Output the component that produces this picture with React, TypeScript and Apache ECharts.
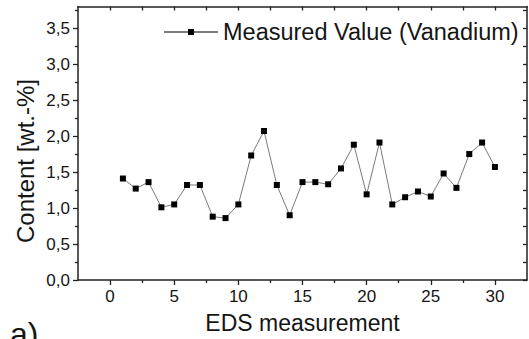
import React, { useEffect, useRef } from 'react';
import * as echarts from 'echarts';

const measurementNo = [1, 2, 3, 4, 5, 6, 7, 8, 9, 10, 11, 12, 13, 14, 15, 16, 17, 18, 19, 20, 21, 22, 23, 24, 25, 26, 27, 28, 29, 30];
const vanadiumContent = [1.41, 1.27, 1.36, 1.01, 1.05, 1.32, 1.32, 0.88, 0.86, 1.05, 1.73, 2.07, 1.32, 0.90, 1.36, 1.36, 1.33, 1.55, 1.88, 1.19, 1.91, 1.05, 1.15, 1.23, 1.16, 1.48, 1.28, 1.75, 1.91, 1.57];
const xMajorTicks = [0, 5, 10, 15, 20, 25, 30];
const xMinorTicks = [2.5, 7.5, 12.5, 17.5, 22.5, 27.5];
const yMajorTicks = [0, 0.5, 1, 1.5, 2, 2.5, 3, 3.5];
const yMinorTicks = [0.25, 0.75, 1.25, 1.75, 2.25, 2.75, 3.25, 3.75];

const seriesName = 'Measured Value (Vanadium)';
const xTitle = 'EDS measurement';
const yTitle = 'Content [wt.-%]';
const panelLabel = 'a)';

const FONT = '"Liberation Sans", Arial, Helvetica, sans-serif';
const AXIS = '#222';
const TXT = '#151515';

export default function App() {
  const ref = useRef<HTMLDivElement>(null);
  useEffect(() => {
    document.body.style.margin = '0';
    const chart = echarts.init(ref.current!, undefined, { renderer: 'svg' });
    const xRange = { min: -2.5, max: 32.5 };
    const yRange = { min: 0, max: 3.8 };
    const lineAx = { show: true, onZero: false, lineStyle: { color: AXIS, width: 1.5 } };
    chart.setOption({
      animation: false,
      backgroundColor: '#fff',
      textStyle: { fontFamily: FONT },
      grid: { left: 78, right: 2, top: 6.5, bottom: 56, containLabel: false },
      legend: {
        left: 163,
        top: 20,
        padding: 0,
        itemWidth: 54,
        itemHeight: 7.5,
        textStyle: { fontSize: 23.5, color: TXT, fontFamily: FONT },
        data: [seriesName],
      },
      xAxis: [
        {
          type: 'value', position: 'bottom', ...xRange,
          axisLine: lineAx,
          axisTick: { show: true, inside: false, length: 5, customValues: xMajorTicks, lineStyle: { color: AXIS, width: 1.3 } },
          axisLabel: { show: true, customValues: xMajorTicks, fontSize: 17, color: TXT, margin: 8, fontFamily: FONT },
          splitLine: { show: false },
          name: xTitle, nameLocation: 'middle', nameGap: 31,
          nameTextStyle: { fontSize: 23, color: TXT, fontFamily: FONT },
        },
        {
          type: 'value', position: 'bottom', ...xRange,
          axisLine: { show: false, onZero: false },
          axisTick: { show: true, inside: false, length: 3, customValues: xMinorTicks, lineStyle: { color: AXIS, width: 1.3 } },
          axisLabel: { show: false },
          splitLine: { show: false },
        },
        {
          type: 'value', position: 'top', ...xRange,
          axisLine: lineAx,
          axisTick: { show: true, inside: true, length: 4, customValues: [...xMajorTicks, ...xMinorTicks], lineStyle: { color: AXIS, width: 1.3 } },
          axisLabel: { show: false },
          splitLine: { show: false },
        },
      ],
      yAxis: [
        {
          type: 'value', position: 'left', ...yRange,
          axisLine: lineAx,
          axisTick: { show: true, inside: false, length: 5, customValues: yMajorTicks, lineStyle: { color: AXIS, width: 1.3 } },
          axisLabel: {
            show: true, customValues: yMajorTicks, fontSize: 17, color: TXT, margin: 8, fontFamily: FONT,
            formatter: (v: number) => v.toFixed(1).replace('.', ','),
          },
          splitLine: { show: false },
        },
        {
          type: 'value', position: 'left', ...yRange,
          axisLine: { show: false, onZero: false },
          axisTick: { show: true, inside: false, length: 3, customValues: yMinorTicks, lineStyle: { color: AXIS, width: 1.3 } },
          axisLabel: { show: false },
          splitLine: { show: false },
        },
        {
          type: 'value', position: 'right', ...yRange,
          axisLine: lineAx,
          axisTick: { show: true, inside: true, length: 4, customValues: [...yMajorTicks, ...yMinorTicks], lineStyle: { color: AXIS, width: 1.3 } },
          axisLabel: { show: false },
          splitLine: { show: false },
        },
      ],
      graphic: [
        {
          type: 'text', x: 25, y: 161, rotation: Math.PI / 2,
          style: { text: yTitle, font: `24px ${FONT}`, fill: TXT, align: 'center', verticalAlign: 'middle' },
        },
        {
          type: 'text', x: 10, y: 334,
          style: { text: panelLabel, font: `32px ${FONT}`, fill: TXT, align: 'left', verticalAlign: 'middle' },
        },
      ],
      series: [
        {
          name: seriesName,
          type: 'line',
          xAxisIndex: 0,
          yAxisIndex: 0,
          data: measurementNo.map((x, i) => [x, vanadiumContent[i]]),
          symbol: 'rect',
          symbolSize: 6,
          itemStyle: { color: '#000' },
          lineStyle: { color: '#7a7a7a', width: 1 },
        },
      ],
    });
    return () => chart.dispose();
  }, []);
  return <div ref={ref} style={{ width: 529, height: 339 }} />;
}
